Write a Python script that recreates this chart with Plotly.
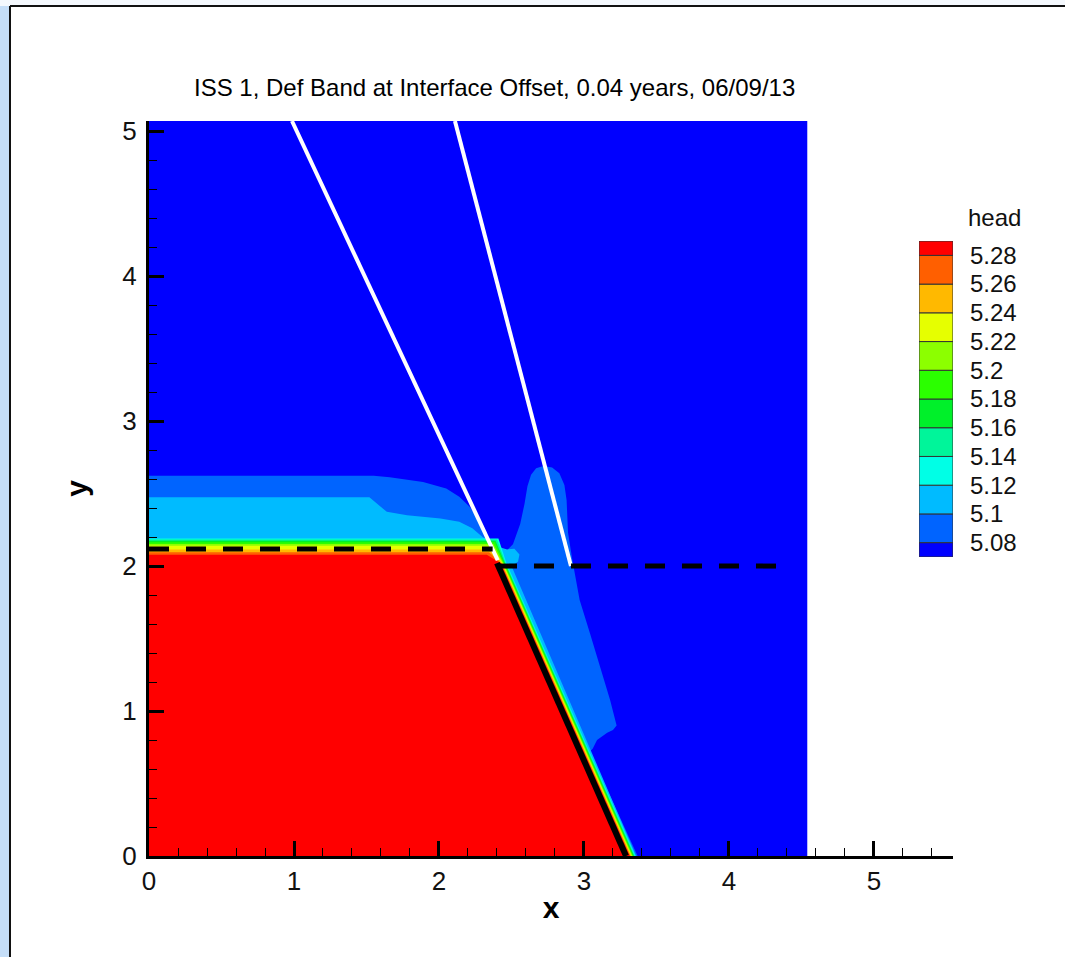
import plotly.graph_objects as go

# ---------------- data (data units) ----------------
domain_x = [0.0, 4.54, 4.54, 0.0]
domain_y = [0.0, 0.0, 5.07, 5.07]

# level 5.08-5.10 region (medium blue): left band + lobe right of the fault
lev508_x = [0.0, 0.0, 1.55, 1.66, 1.89, 2.05, 2.14, 2.21, 2.26, 2.305, 2.34, 2.40, 2.46,
            2.51, 2.56, 2.59, 2.61, 2.635, 2.67, 2.72, 2.78, 2.83, 2.865, 2.88, 2.89, 2.92,
            2.97, 3.04, 3.11, 3.18, 3.225, 3.20, 3.16, 3.09, 3.06, 3.04, 3.37]
lev508_y = [0.0, 2.623, 2.623, 2.612, 2.58, 2.535, 2.478, 2.41, 2.34, 2.248, 2.18, 2.12, 2.10,
            2.15, 2.29, 2.43, 2.55, 2.63, 2.675, 2.69, 2.68, 2.64, 2.56, 2.455, 2.23, 2.04,
            1.766, 1.54, 1.30, 1.076, 0.90, 0.87, 0.85, 0.80, 0.74, 0.72, 0.0]

# level 5.10-5.12 region (light blue)
lev510_x = [0.0, 0.0, 1.52, 1.59, 1.64, 1.78, 2.01, 2.14, 2.23, 2.30, 2.36, 2.42, 2.47,
            2.52, 2.555, 2.545, 2.50, 3.36]
lev510_y = [0.0, 2.474, 2.474, 2.416, 2.374, 2.35, 2.328, 2.305, 2.26, 2.20, 2.17, 2.13, 2.115,
            2.12, 2.08, 2.03, 2.00, 0.0]

# fault trace (black solid line)
fault_x = [2.40, 3.29]
fault_y = [2.02, 0.0]

# thin bands hugging the high-head block (levels 5.12 ... 5.28)
band_levels = [5.12, 5.14, 5.16, 5.18, 5.20, 5.22, 5.24, 5.26, 5.28]
band_top_y = [2.19, 2.183, 2.175, 2.165, 2.153, 2.14, 2.115, 2.095, 2.078]
band_corner_x = [2.41, 2.40, 2.39, 2.385, 2.375, 2.365, 2.355, 2.345, 2.33]
band_slant_dx = [0.065, 0.06, 0.055, 0.05, 0.045, 0.04, 0.035, 0.03, 0.025]

# white lines (deformation band traces)
white1_x = [0.986, 2.405]
white1_y = [5.07, 2.04]
white2_x = [2.11, 2.91]
white2_y = [5.07, 2.00]

# dashed interface lines
dash1_x = [0.0, 2.37]
dash1_y = [2.117, 2.117]
dash2_x = [2.40, 4.37]
dash2_y = [2.0, 2.0]

# colour legend
cb_low = [5.07, 5.08, 5.10, 5.12, 5.14, 5.16, 5.18, 5.20, 5.22, 5.24, 5.26, 5.28]
cb_high = [5.08, 5.10, 5.12, 5.14, 5.16, 5.18, 5.20, 5.22, 5.24, 5.26, 5.28, 5.29]
cb_colors = ["#0000FF", "#0064FF", "#00BBFF", "#00FFE6", "#00F59A", "#00F02A",
             "#2BFF00", "#8CFF00", "#E6FF00", "#FFB900", "#FF5F00", "#FF0000"]
cb_tickvals = [5.08, 5.10, 5.12, 5.14, 5.16, 5.18, 5.20, 5.22, 5.24, 5.26, 5.28]
cb_ticktext = ["5.08", "5.1", "5.12", "5.14", "5.16", "5.18", "5.2", "5.22", "5.24", "5.26", "5.28"]

title_text = "ISS 1, Def Band at Interface Offset, 0.04 years, 06/09/13"


def color_for(level):
    return cb_colors[cb_low.index(level)]


FONT = "Liberation Sans, Arial, Helvetica, sans-serif"
fig = go.Figure()


def poly(xs, ys, color):
    fig.add_trace(go.Scatter(x=xs, y=ys, mode="lines", fill="toself", fillcolor=color,
                             line=dict(width=0, color=color), hoverinfo="skip",
                             showlegend=False))


poly(domain_x, domain_y, cb_colors[0])
poly(lev508_x, lev508_y, color_for(5.08))
poly(lev510_x, lev510_y, color_for(5.10))

fx0, fy0 = fault_x[0], fault_y[0]
fx1 = fault_x[1]
for lev, top, cx, dx in zip(band_levels, band_top_y, band_corner_x, band_slant_dx):
    xs = [0.0, 0.0, cx, fx0 + dx, fx1 + dx]
    ys = [0.0, top, top, fy0, 0.0]
    poly(xs, ys, color_for(lev))

# lines
fig.add_trace(go.Scatter(x=fault_x, y=fault_y, mode="lines",
                         line=dict(color="black", width=6), hoverinfo="skip", showlegend=False))
fig.add_trace(go.Scatter(x=white1_x, y=white1_y, mode="lines",
                         line=dict(color="white", width=4), hoverinfo="skip", showlegend=False))
fig.add_trace(go.Scatter(x=white2_x, y=white2_y, mode="lines",
                         line=dict(color="white", width=4), hoverinfo="skip", showlegend=False))
for dx_, dy_ in [(dash1_x, dash1_y), (dash2_x, dash2_y)]:
    fig.add_trace(go.Scatter(x=dx_, y=dy_, mode="lines",
                             line=dict(color="black", width=5, dash="20px,17px"),
                             hoverinfo="skip", showlegend=False))

# colour legend as stacked blocks
fig.add_trace(go.Bar(x=[0] * len(cb_low), y=[h - l for l, h in zip(cb_low, cb_high)],
                     base=cb_low, width=1, marker=dict(color=cb_colors,
                                                       line=dict(color="#333333", width=1)),
                     xaxis="x2", yaxis="y2", hoverinfo="skip", showlegend=False))

W, H = 1065, 957
ML, MR, MT, MB = 149, 10, 121, 101
PW, PH = W - ML - MR, H - MT - MB


def px(x):
    return (x - ML) / PW


def py(y):
    return (H - MB - y) / PH


axis_common = dict(showline=True, linecolor="black", linewidth=3, ticks="inside",
                   ticklen=15, tickwidth=3, tickcolor="black", showgrid=False, zeroline=False,
                   dtick=1, tick0=0, tickfont=dict(family=FONT, size=26, color="#111"),
                   minor=dict(ticks="inside", dtick=0.2, ticklen=8, tickwidth=1,
                              tickcolor="black", showgrid=False),
                   layer="above traces")

fig.update_layout(
    width=W, height=H,
    margin=dict(l=ML, r=MR, t=MT, b=MB),
    paper_bgcolor="white", plot_bgcolor="white",
    showlegend=False,
    xaxis=dict(range=[0, 5.545], domain=[0, px(953)], anchor="y",
               title=dict(text="<b>x</b>", font=dict(family=FONT, size=30, color="black"),
                          standoff=2),
               **axis_common),
    yaxis=dict(range=[0, 5.07], domain=[0, 1], anchor="x", ticklabelstandoff=4,
               title=dict(text="<b>y</b>", font=dict(family=FONT, size=30, color="black"),
                          standoff=26),
               **axis_common),
    xaxis2=dict(domain=[px(919), px(953)], range=[-0.5, 0.5], anchor="y2",
                visible=False, fixedrange=True),
    yaxis2=dict(domain=[py(557), py(241)], range=[5.07, 5.29], anchor="x2", side="right",
                showgrid=False, zeroline=False, showline=False, ticks="",
                tickvals=cb_tickvals, ticktext=cb_ticktext, ticklabelstandoff=16,
                tickfont=dict(family=FONT, size=24, color="#111")),
    annotations=[
        dict(text=title_text, x=px(494), y=py(88), xref="paper", yref="paper",
             showarrow=False, xanchor="center", yanchor="middle",
             font=dict(family=FONT, size=24, color="black")),
        dict(text="head", x=px(994), y=py(217), xref="paper", yref="paper",
             showarrow=False, xanchor="center", yanchor="middle",
             font=dict(family=FONT, size=24, color="#111")),
    ],
    shapes=[
        dict(type="rect", xref="paper", yref="paper", x0=px(0), x1=px(10), y0=py(H), y1=py(0),
             fillcolor="#C5DEF8", line=dict(width=0), layer="below"),
        dict(type="rect", xref="paper", yref="paper", x0=px(0), x1=px(W), y0=py(6), y1=py(0),
             fillcolor="#F4F8FD", line=dict(width=0), layer="below"),
        dict(type="line", xref="paper", yref="paper", x0=px(10), x1=px(10), y0=py(H), y1=py(6),
             line=dict(color="#111", width=2)),
        dict(type="line", xref="paper", yref="paper", x0=px(10), x1=px(W), y0=py(6), y1=py(6),
             line=dict(color="#111", width=2)),
    ],
)

fig.write_html("out.html")
